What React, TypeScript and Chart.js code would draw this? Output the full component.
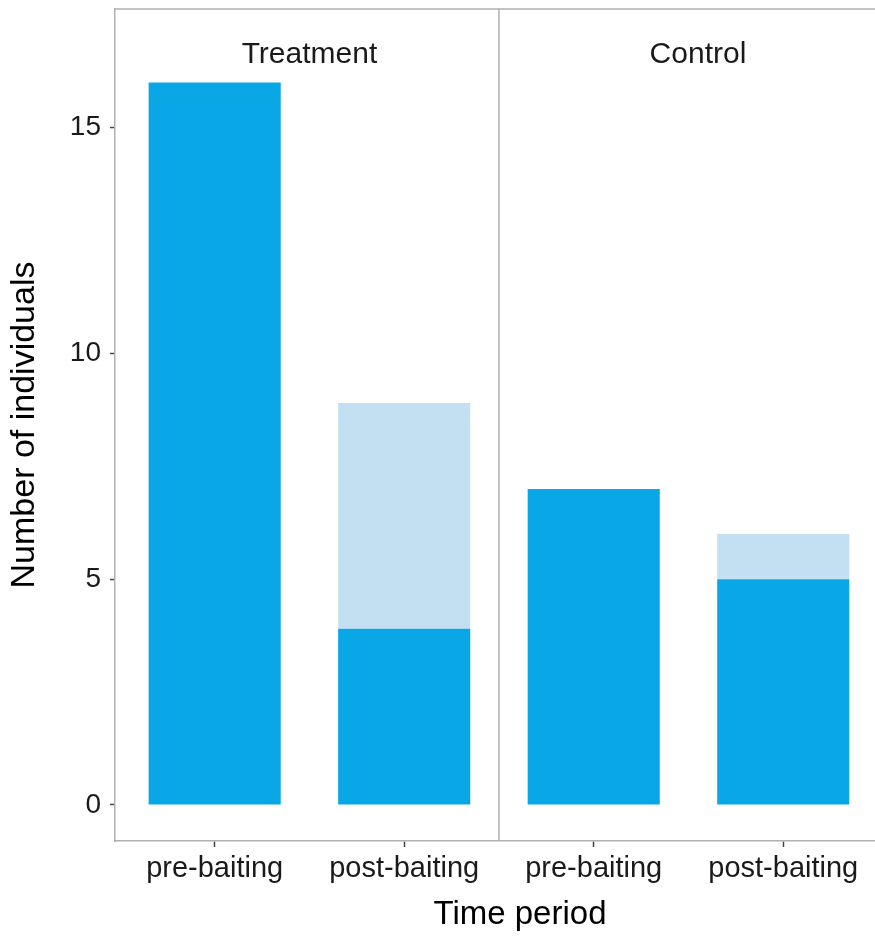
import React, { useEffect, useRef } from "react";
import { Chart, registerables } from "chart.js";

Chart.register(...registerables);

// ---- data ----
const groups = ["Treatment", "Control"];
const categories = ["pre-baiting", "post-baiting", "pre-baiting", "post-baiting"];
const categoryPositions = [0, 1, 2, 3];
const darkValues = [16, 3.9, 7, 5];
const lightValues = [0, 5.0, 0, 1];
const yTicks = [0, 5, 10, 15];
const yTitle = "Number of individuals";
const xTitle = "Time period";

// ---- styles ----
const DARK = "#09a7e6";
const LIGHT = "#c3dff2";
const FRAME = "#b0b0b0";
const TEXT = "#1a1a1a";
const FONT = "'Liberation Sans', Arial, Helvetica, sans-serif";

export default function App() {
  const ref = useRef<HTMLCanvasElement>(null);

  useEffect(() => {
    if (!ref.current) return;

    const facetPlugin = {
      id: "facetFrame",
      beforeDatasetsDraw(chart: any) {
        const { ctx, chartArea, scales } = chart;
        const x = scales.x;
        ctx.save();
        ctx.strokeStyle = FRAME;
        ctx.lineWidth = 1.5;
        // top frame line
        ctx.beginPath();
        ctx.moveTo(chartArea.left, chartArea.top);
        ctx.lineTo(chartArea.right, chartArea.top);
        ctx.stroke();
        // facet divider
        const dx = x.getPixelForValue(1.5);
        ctx.beginPath();
        ctx.moveTo(dx, chartArea.top);
        ctx.lineTo(dx, chartArea.bottom);
        ctx.stroke();
        // facet labels
        ctx.fillStyle = TEXT;
        ctx.font = `30px ${FONT}`;
        ctx.textAlign = "center";
        ctx.textBaseline = "alphabetic";
        const centers = [x.getPixelForValue(0.5), x.getPixelForValue(2.55)];
        groups.forEach((g, i) => ctx.fillText(g, centers[i], chartArea.top + 54));
        ctx.restore();
      },
    };

    const chart = new Chart(ref.current, {
      type: "bar",
      data: {
        datasets: [
          {
            label: "Dark",
            data: categoryPositions.map((x, i) => ({ x, y: darkValues[i] })),
            backgroundColor: DARK,
            borderWidth: 0,
            stack: "s",
            categoryPercentage: 1,
            barPercentage: 0.697,
          },
          {
            label: "Light",
            data: categoryPositions.map((x, i) => ({ x, y: lightValues[i] })),
            backgroundColor: LIGHT,
            borderWidth: 0,
            stack: "s",
            categoryPercentage: 1,
            barPercentage: 0.697,
          },
        ],
      },
      options: {
        animation: false,
        responsive: true,
        maintainAspectRatio: false,
        devicePixelRatio: 1,
        layout: { padding: { top: 9, left: 0, right: 0, bottom: 0 } },
        plugins: {
          legend: { display: false },
          tooltip: { enabled: false },
        },
        scales: {
          x: {
            type: "linear",
            offset: false,
            min: -0.526,
            max: 3.748,
            afterBuildTicks: (s: any) => {
              s.ticks = categoryPositions.map((v) => ({ value: v }));
            },
            afterFit: (s: any) => {
              s.height = 96;
              s.paddingLeft = 0;
              s.paddingRight = 0;
            },
            ticks: {
              callback: (v: any) => categories[v] ?? "",
              font: { size: 29, family: FONT },
              color: TEXT,
              padding: 5,
              autoSkip: false,
              maxRotation: 0,
              minRotation: 0,
            },
            grid: {
              display: true,
              offset: false,
              drawOnChartArea: false,
              drawTicks: true,
              tickLength: 6,
              tickColor: "#444",
              tickWidth: 1.5,
            },
            border: { display: true, color: FRAME, width: 1.5 },
            title: {
              display: true,
              text: xTitle,
              font: { size: 33, family: FONT },
              color: "#000",
              padding: { top: 0, bottom: 2 },
            },
          },
          y: {
            type: "linear",
            stacked: true,
            min: -0.8,
            max: 17.63,
            afterBuildTicks: (s: any) => {
              s.ticks = yTicks.map((v) => ({ value: v }));
            },
            afterFit: (s: any) => {
              s.width = 115;
              s.paddingTop = 0;
              s.paddingBottom = 0;
            },
            ticks: {
              font: { size: 28, family: FONT },
              color: TEXT,
              padding: 9,
            },
            grid: {
              display: true,
              drawOnChartArea: false,
              drawTicks: true,
              tickLength: 5,
              tickColor: "#444",
              tickWidth: 1.5,
            },
            border: { display: true, color: FRAME, width: 1.5 },
            title: {
              display: true,
              text: yTitle,
              font: { size: 34, family: FONT },
              color: "#000",
              padding: { top: 4, bottom: 0 },
            },
          },
        },
      },
      plugins: [facetPlugin],
    } as any);

    return () => chart.destroy();
  }, []);

  return (
    <div
      style={{
        position: "fixed",
        left: 0,
        top: 0,
        width: 875,
        height: 937,
        overflow: "hidden",
        background: "#fff",
      }}
    >
      <div style={{ position: "relative", width: 925, height: 937 }}>
        <canvas ref={ref} />
      </div>
    </div>
  );
}
